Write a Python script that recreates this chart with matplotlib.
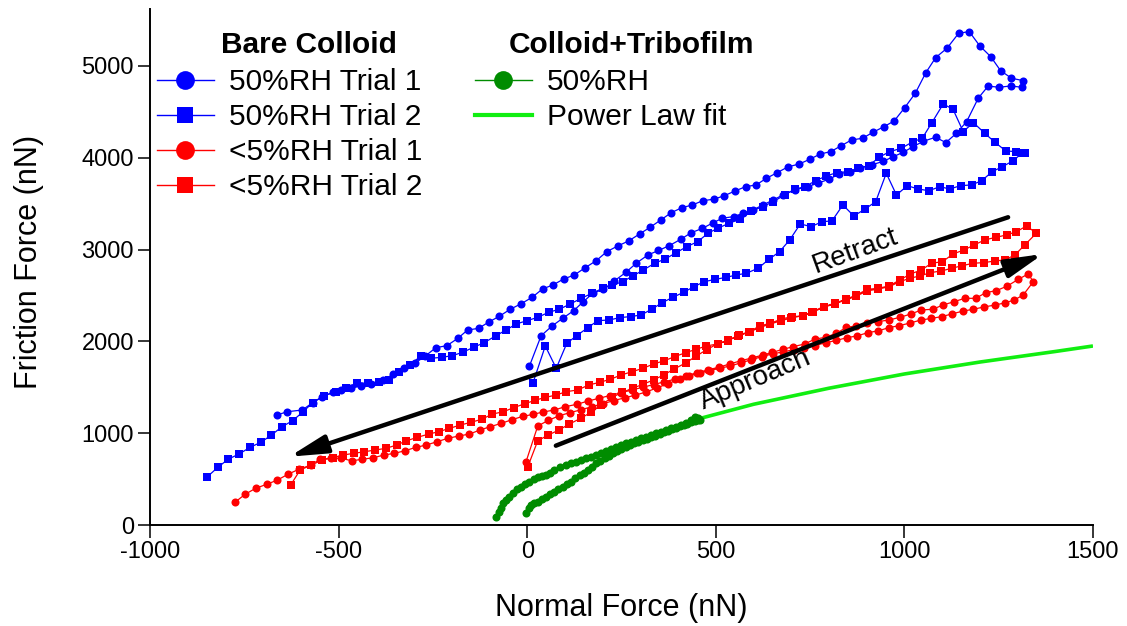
import matplotlib
matplotlib.use('Agg')
import matplotlib.pyplot as plt
from matplotlib.lines import Line2D

plt.rcParams['font.family'] = ['Liberation Sans', 'DejaVu Sans']

# ---------------- data ----------------
# Bare colloid, 50%RH trial 1 (blue circles)
b1_app_x = [6, 37, 66, 94, 123, 149, 174, 202, 231, 262, 289, 320, 348, 377, 407, 435, 464, 492, 517, 547,
            572, 598, 625, 652, 678, 709, 744, 772, 800, 828, 855, 882, 913, 943, 970, 997, 1023, 1050, 1083, 1110,
            1138, 1165, 1196, 1222, 1252, 1282, 1311]
b1_app_y = [1732, 2062, 2168, 2251, 2334, 2433, 2524, 2567, 2658, 2753, 2851, 2941, 2990, 3043, 3112, 3184, 3230, 3290, 3341, 3359,
            3395, 3431, 3486, 3540, 3595, 3650, 3685, 3725, 3766, 3824, 3849, 3886, 3922, 3960, 4010, 4060, 4120, 4180, 4223, 4165,
            4267, 4393, 4650, 4780, 4768, 4782, 4768]
b1_ret_x = [1315, 1284, 1255, 1229, 1200, 1172, 1144, 1113, 1083, 1057, 1029, 1001, 973, 946, 917, 889, 860, 833, 805, 777,
            749, 721, 691, 663, 634, 607, 579, 551, 521, 494, 466, 438, 410, 382, 354, 326, 298, 269, 240, 211,
            183, 154, 125, 97, 68, 41, 13, -16, -45, -74, -100, -129, -158, -184, -213, -242, -270, -298, -326, -355,
            -383, -414, -441, -467, -494, -516, -543, -569, -596, -636, -664]
b1_ret_y = [4840, 4866, 4949, 5101, 5218, 5374, 5356, 5193, 5091, 4927, 4703, 4546, 4401, 4339, 4278, 4212, 4194, 4132, 4067, 4041,
            3983, 3932, 3900, 3838, 3776, 3704, 3685, 3638, 3584, 3548, 3533, 3486, 3456, 3402, 3322, 3243, 3170, 3094, 3039, 2977,
            2879, 2803, 2723, 2680, 2614, 2572, 2480, 2410, 2350, 2273, 2215, 2142, 2124, 2033, 1953, 1932, 1841, 1761, 1707, 1640,
            1580, 1536, 1514, 1489, 1471, 1445, 1398, 1332, 1253, 1234, 1198]

# Bare colloid, 50%RH trial 2 (blue squares)
b2_app_x = [15, 48, 77, 105, 131, 161, 187, 218, 245, 274, 302, 330, 358, 386, 415, 442, 470, 499, 528, 554,
            581, 612, 641, 669, 696, 724, 753, 782, 808, 837, 866, 895, 924, 952, 979, 1008, 1036, 1065, 1094, 1120,
            1149, 1178, 1205, 1233, 1260, 1289, 1311]
b2_app_y = [1543, 1950, 1707, 1979, 2062, 2150, 2226, 2233, 2259, 2270, 2288, 2350, 2422, 2480, 2535, 2596, 2651, 2676, 2698, 2723,
            2742, 2796, 2894, 2977, 3105, 3279, 3250, 3304, 3312, 3486, 3366, 3439, 3522, 3831, 3595, 3696, 3660, 3641, 3685, 3660,
            3696, 3704, 3750, 3849, 3903, 3969, 4048]
b2_ret_x = [1320, 1297, 1269, 1240, 1213, 1183, 1156, 1129, 1103, 1072, 1047, 1023, 992, 961, 933, 906, 877, 851, 821, 793,
            765, 736, 709, 683, 652, 625, 594, 563, 535, 505, 479, 452, 423, 395, 366, 338, 308, 280, 253, 225,
            200, 172, 143, 114, 85, 57, 28, 0, -29, -56, -84, -114, -142, -171, -199, -226, -255, -282, -310, -339,
            -366, -394, -423, -452, -481, -507, -538, -569, -594, -622, -650, -678, -706, -735, -764, -792, -820, -848]
b2_ret_y = [4048, 4067, 4074, 4169, 4267, 4383, 4285, 4528, 4586, 4376, 4210, 4176, 4103, 4067, 4005, 3914, 3886, 3849, 3838, 3802,
            3750, 3685, 3657, 3595, 3522, 3468, 3420, 3330, 3286, 3232, 3177, 3086, 3032, 2966, 2898, 2851, 2778, 2712, 2651, 2610,
            2578, 2524, 2469, 2407, 2350, 2317, 2262, 2226, 2190, 2124, 2059, 1986, 1936, 1881, 1844, 1827, 1816, 1841, 1745, 1670,
            1580, 1561, 1543, 1550, 1489, 1452, 1408, 1332, 1234, 1136, 1071, 980, 901, 846, 773, 719, 629, 526]

# Bare colloid, <5%RH trial 1 (red circles)
r1_app_x = [-3, 28, 56, 85, 114, 143, 172, 200, 229, 258, 287, 316, 345, 373, 404, 430, 457, 484, 510, 538,
            568, 594, 623, 651, 679, 707, 735, 763, 791, 819, 847, 875, 903, 931, 959, 987, 1015, 1043, 1071, 1099,
            1127, 1155, 1183, 1211, 1239, 1267, 1291, 1315, 1342]
r1_app_y = [690, 1078, 1140, 1190, 1225, 1255, 1290, 1320, 1355, 1385, 1415, 1450, 1495, 1540, 1587, 1625, 1655, 1681, 1707, 1732,
            1768, 1800, 1835, 1865, 1886, 1910, 1932, 1955, 1985, 2010, 2040, 2060, 2095, 2115, 2150, 2172, 2200, 2232, 2250, 2270,
            2300, 2330, 2350, 2375, 2395, 2420, 2450, 2505, 2651]
r1_ret_x = [1328, 1302, 1273, 1244, 1216, 1189, 1160, 1132, 1103, 1075, 1045, 1017, 988, 959, 930, 901, 873, 846, 820, 791,
            762, 736, 705, 678, 650, 625, 596, 567, 538, 509, 480, 451, 422, 393, 364, 335, 306, 277, 248, 219,
            190, 161, 132, 101, 72, 41, 15, -12, -40, -69, -98, -125, -153, -182, -211, -239, -268, -295, -324, -352,
            -379, -408, -437, -465, -494, -520, -550, -573, -605, -633, -662, -691, -720, -748, -775]
r1_ret_y = [2734, 2676, 2603, 2553, 2531, 2469, 2469, 2433, 2397, 2350, 2342, 2298, 2262, 2233, 2215, 2197, 2168, 2153, 2088, 2045,
            2023, 1972, 1942, 1914, 1880, 1852, 1820, 1790, 1755, 1720, 1690, 1660, 1625, 1590, 1560, 1530, 1500, 1470, 1440, 1410,
            1380, 1350, 1315, 1289, 1253, 1230, 1205, 1183, 1148, 1107, 1071, 1035, 991, 969, 944, 907, 871, 846, 809, 781,
            763, 733, 716, 700, 727, 727, 716, 654, 607, 556, 490, 443, 400, 334, 247]

# Bare colloid, <5%RH trial 2 (red squares)
r2_app_x = [1, 28, 56, 84, 112, 143, 170, 197, 225, 252, 280, 308, 335, 362, 390, 420, 448, 476, 505, 532,
            560, 588, 616, 645, 673, 700, 730, 757, 786, 815, 845, 873, 902, 930, 959, 988, 1016, 1041, 1069, 1098,
            1125, 1154, 1182, 1211, 1240, 1266, 1293, 1319, 1350]
r2_app_y = [628, 918, 980, 1035, 1100, 1165, 1230, 1310, 1390, 1445, 1490, 1535, 1580, 1635, 1700, 1765, 1840, 1910, 1975, 2010,
            2060, 2100, 2150, 2190, 2225, 2255, 2280, 2320, 2370, 2410, 2450, 2495, 2550, 2570, 2595, 2650, 2690, 2712, 2749, 2767,
            2796, 2825, 2851, 2858, 2876, 2887, 2941, 3050, 3178]
r2_ret_x = [1324, 1297, 1271, 1243, 1213, 1185, 1158, 1129, 1101, 1072, 1045, 1016, 988, 959, 930, 902, 873, 845, 815, 786,
            756, 730, 702, 674, 645, 616, 590, 561, 532, 505, 475, 448, 420, 391, 364, 335, 307, 278, 249, 220,
            192, 163, 134, 103, 77, 48, 22, -7, -36, -63, -92, -121, -149, -177, -206, -235, -261, -291, -320, -346,
            -375, -403, -432, -459, -488, -516, -543, -572, -602, -627]
r2_ret_y = [3257, 3195, 3159, 3134, 3105, 3050, 2996, 2952, 2868, 2851, 2778, 2734, 2669, 2603, 2578, 2567, 2505, 2459, 2415, 2378,
            2324, 2277, 2269, 2244, 2197, 2168, 2106, 2070, 2008, 1972, 1950, 1914, 1877, 1834, 1790, 1754, 1707, 1670, 1634, 1587,
            1554, 1525, 1471, 1452, 1416, 1390, 1360, 1320, 1278, 1234, 1209, 1151, 1119, 1089, 1053, 1016, 991, 955, 918, 871,
            835, 817, 798, 781, 763, 733, 708, 654, 599, 436]

# Colloid + tribofilm, 50%RH (green circles)
g_app_x = [-3, 4, 10, 19, 28, 39, 50, 61, 72, 83, 94, 105, 116, 128, 139, 150, 161, 172, 183, 194,
           205, 216, 227, 238, 250, 261, 272, 284, 295, 306, 318, 329, 340, 351, 362, 374, 385, 395, 405, 415,
           425, 435, 445, 452, 457]
g_app_y = [127, 180, 218, 236, 254, 281, 308, 335, 363, 390, 417, 445, 472, 508, 545, 572, 599, 635, 672, 700,
           727, 754, 781, 805, 830, 850, 870, 888, 905, 922, 940, 958, 975, 992, 1010, 1028, 1045, 1060, 1075, 1090,
           1105, 1118, 1130, 1140, 1144]
g_ret_x = [452, 444, 435, 422, 408, 395, 382, 369, 355, 342, 329, 316, 302, 289, 275, 262, 249, 236, 222, 209,
           196, 183, 170, 156, 143, 130, 116, 103, 88, 72, 61, 50, 39, 28, 17, 6, -5, -16, -27, -38,
           -47, -56, -63, -69, -76, -84]
g_ret_y = [1165, 1180, 1140, 1114, 1090, 1071, 1053, 1035, 1017, 999, 980, 962, 944, 926, 908, 890, 871, 853, 830, 806,
           785, 763, 745, 727, 708, 690, 672, 654, 627, 599, 572, 545, 532, 520, 496, 472, 450, 411, 390, 345,
           310, 272, 235, 182, 140, 91]

# Power law fit (bright green line)
fit_x = [430, 600, 800, 1000, 1200, 1400, 1500]
fit_y = [1130, 1315, 1490, 1645, 1775, 1890, 1950]

# Annotation arrows (start -> tip) in data units
retract_arrow = [(1275, 3352), (-631, 744)]
approach_arrow = [(76, 864), (1368, 2952)]

x_ticks = [-1000, -500, 0, 500, 1000, 1500]
y_ticks = [0, 1000, 2000, 3000, 4000, 5000]

# ---------------- figure ----------------
BLUE = '#0000ff'
RED = '#ff0000'
GREEN = '#008c00'
LGREEN = '#11ee11'

fig = plt.figure(figsize=(11.27, 6.26), dpi=100)
ax = fig.add_axes([0.1331, 0.1613, 0.8367, 0.8243])

ms_c = 5.8
ms_s = 5.3
lw = 0.9

ax.plot(fit_x, fit_y, color=LGREEN, lw=2.6, zorder=2, solid_capstyle='butt')
ax.plot(g_app_x + g_ret_x, g_app_y + g_ret_y, color=GREEN, lw=lw, marker='o', ms=ms_c,
        mec=GREEN, mew=0, zorder=3)
ax.plot(r1_app_x + r1_ret_x, r1_app_y + r1_ret_y, color=RED, lw=lw, marker='o', ms=ms_c,
        mec=RED, mew=0, zorder=3)
ax.plot(r2_app_x + r2_ret_x, r2_app_y + r2_ret_y, color=RED, lw=lw, marker='s', ms=ms_s,
        mec=RED, mew=0, zorder=3)
ax.plot(b1_app_x + b1_ret_x, b1_app_y + b1_ret_y, color=BLUE, lw=lw, marker='o', ms=ms_c,
        mec=BLUE, mew=0, zorder=3)
ax.plot(b2_app_x + b2_ret_x, b2_app_y + b2_ret_y, color=BLUE, lw=lw, marker='s', ms=ms_s,
        mec=BLUE, mew=0, zorder=3)

arrow_style = dict(arrowstyle='-|>,head_length=0.9,head_width=0.22', color='black', lw=3.2,
                   mutation_scale=25, shrinkA=0, shrinkB=0)
ax.annotate('', xy=retract_arrow[1], xytext=retract_arrow[0], arrowprops=arrow_style, zorder=4)
ax.annotate('', xy=approach_arrow[1], xytext=approach_arrow[0], arrowprops=arrow_style, zorder=4)

ax.text(870, 2980, 'Retract', rotation=20, ha='center', va='center', fontsize=20,
        rotation_mode='anchor', zorder=5)
ax.text(606, 1580, 'Approach', rotation=23, ha='center', va='center', fontsize=20,
        rotation_mode='anchor', zorder=5)

ax.set_xlim(-1000, 1500)
ax.set_ylim(0, 5620)
ax.set_xticks(x_ticks)
ax.set_yticks(y_ticks)
ax.set_xticklabels([str(v) for v in x_ticks])
ax.set_yticklabels([str(v) for v in y_ticks])

for s in ['top', 'right']:
    ax.spines[s].set_visible(False)
for s in ['left', 'bottom']:
    ax.spines[s].set_linewidth(1.4)
ax.tick_params(direction='out', length=9, width=1.1, labelsize=17, pad=2.5)

ax.set_xlabel('Normal Force (nN)', fontsize=22)
ax.set_ylabel('Friction Force (nN)', fontsize=22)
ax.xaxis.set_label_coords(0.5, -0.132)
ax.yaxis.set_label_coords(-0.112, 0.51)

# legends
h1 = [Line2D([], [], color=BLUE, lw=1, marker='o', ms=13.5, mew=0),
      Line2D([], [], color=BLUE, lw=1, marker='s', ms=12, mew=0),
      Line2D([], [], color=RED, lw=1, marker='o', ms=13.5, mew=0),
      Line2D([], [], color=RED, lw=1, marker='s', ms=12, mew=0)]
l1 = ['50%RH Trial 1', '50%RH Trial 2', '<5%RH Trial 1', '<5%RH Trial 2']
h2 = [Line2D([], [], color=GREEN, lw=1, marker='o', ms=13.5, mew=0),
      Line2D([], [], color=LGREEN, lw=3)]
l2 = ['50%RH', 'Power Law fit']

common = dict(loc='upper left', frameon=False, fontsize=21.5, handlelength=1.9,
              handletextpad=0.5, labelspacing=0.23, borderaxespad=0, borderpad=0)
leg1 = ax.legend(h1, l1, bbox_to_anchor=(0.0074, 0.885), **common)
ax.add_artist(leg1)
leg2 = ax.legend(h2, l2, bbox_to_anchor=(0.3446, 0.885), **common)

ax.text(0.1686, 0.930, 'Bare Colloid', transform=ax.transAxes, ha='center', va='center',
        fontsize=21.5, fontweight='bold')
ax.text(0.5111, 0.930, 'Colloid+Tribofilm', transform=ax.transAxes, ha='center', va='center',
        fontsize=21.5, fontweight='bold')

fig.savefig('out.png', dpi=100)
